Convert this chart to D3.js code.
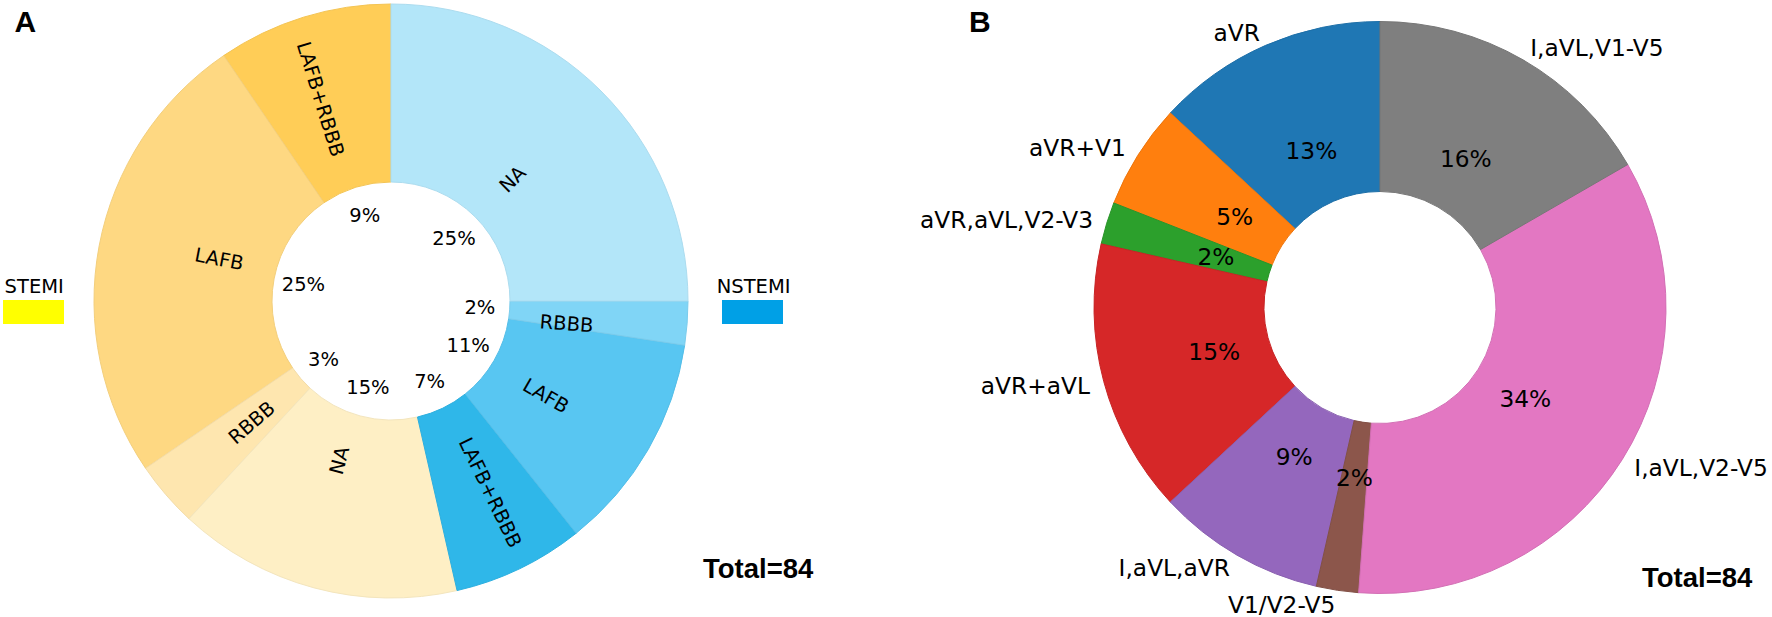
<!DOCTYPE html>
<html><head><meta charset="utf-8">
<script src="https://cdn.jsdelivr.net/npm/d3@7"></script>
<style>body{margin:0;background:#fff} svg{display:block}</style>
</head><body>
<svg id="chart" width="1772" height="617"></svg>
<script>
// ---------- data ----------
const blockCategories = ["LAFB+RBBB","LAFB","RBBB","NA","LAFB+RBBB","LAFB","RBBB","NA"];
const blockGroups     = ["STEMI","STEMI","STEMI","STEMI","NSTEMI","NSTEMI","NSTEMI","NSTEMI"];
const blockCounts     = [8, 21, 3, 13, 6, 10, 2, 21];
const groupNames      = ["STEMI","NSTEMI"];

const leadCategories = ["aVR","aVR+V1","aVR,aVL,V2-V3","aVR+aVL","I,aVL,aVR","V1/V2-V5","I,aVL,V2-V5","I,aVL,V1-V5"];
const leadCounts     = [11, 5, 2, 13, 8, 2, 29, 14];

const totalLabel = "Total=84";

// ---------- styles ----------
const blockColors = ["#FFCD57","#FED882","#FEE6AF","#FEEFC5","#2FB7E9","#58C6F2","#80D5F6","#B3E6F9"];
const groupColors = ["#FFFF00","#00A0E6"];
const leadColors  = ["#1f77b4","#ff7f0e","#2ca02c","#d62728","#9467bd","#8c564b","#e377c2","#7f7f7f"];
const fontSans = "'DejaVu Sans', sans-serif";
const fontBold = "'Liberation Sans', Arial, sans-serif";

const svg = d3.select("#chart");
svg.append("rect").attr("width",1772).attr("height",617).attr("fill","#fff");

const pieCCW = d3.pie().sort(null).startAngle(0).endAngle(-2*Math.PI);
const pct = (v,t) => Math.floor(100*v/t) + "%";
const mid = d => (d.startAngle + d.endAngle) / 2;

// ---------- Panel A ----------
{
  const cx = 391, cy = 301, R = 297, r = 119, fs = 19.5;
  const total = d3.sum(blockCounts);
  const arcs = pieCCW(blockCounts);
  const arc = d3.arc().innerRadius(r).outerRadius(R);
  const g = svg.append("g").attr("transform", `translate(${cx},${cy})`);
  g.selectAll("path.w").data(arcs).join("path").attr("class","w")
    .attr("d", arc)
    .attr("fill", (d,i) => blockColors[i])
    .attr("stroke", (d,i) => d3.color(blockColors[i]).darker(0.12))
    .attr("stroke-width", 1);

  // percentage labels in the hole
  const pr = 0.3 * R;
  g.selectAll("text.p").data(arcs).join("text").attr("class","p")
    .attr("x", d => pr*Math.sin(mid(d)))
    .attr("y", d => -pr*Math.cos(mid(d)))
    .attr("text-anchor","middle").attr("dominant-baseline","central")
    .attr("font-family", fontSans).attr("font-size", fs).attr("fill","#000")
    .text(d => pct(d.data, total));

  // rotated category labels (bbox-aligned like a pie with rotated labels)
  const lr = 0.5 * R;
  g.selectAll("text.c").data(arcs).join("text").attr("class","c")
    .attr("text-anchor","middle").attr("dominant-baseline","central")
    .attr("font-family", fontSans).attr("font-size", fs).attr("fill","#000")
    .text((d,i) => blockCategories[i])
    .each(function(d){
      const a = mid(d);
      const xt = lr*Math.sin(a), yt = -lr*Math.cos(a);
      const right = xt > 0, upper = yt < 0;
      const w = this.getComputedTextLength(), h = fs;
      let phi = Math.PI/2 - a;              // math angle (ccw from +x)
      let rot = right ? phi : phi + Math.PI;
      const c = Math.abs(Math.cos(rot)), s = Math.abs(Math.sin(rot));
      const W = w*c + h*s, H = w*s + h*c;
      const x = xt + (right ? W/2 : -W/2);
      const y = yt + (upper ? -H/2 : H/2);
      const deg = -rot*180/Math.PI;
      d3.select(this).attr("transform", `translate(${x},${y}) rotate(${deg})`);
    });

  // legends
  const legendPos = [{tx:4.6, rx:3}, {tx:716.7, rx:722}];
  groupNames.forEach((name,k) => {
    svg.append("text").attr("x", legendPos[k].tx).attr("y", 292.7)
      .attr("font-family", fontSans).attr("font-size", fs).attr("fill","#000").text(name);
    svg.append("rect").attr("x", legendPos[k].rx).attr("y", 300).attr("width", 61).attr("height", 24)
      .attr("fill", groupColors[k]);
  });

  svg.append("text").attr("x", 703).attr("y", 577.5)
    .attr("font-family", fontBold).attr("font-weight","bold").attr("font-size", 27.5).attr("fill","#000")
    .text(totalLabel);
  svg.append("text").attr("x", 14.5).attr("y", 31.7)
    .attr("font-family", fontBold).attr("font-weight","bold").attr("font-size", 30).attr("fill","#000")
    .text("A");
}

// ---------- Panel B ----------
{
  const cx = 1380, cy = 307.5, R = 286, r = 116, fs = 23.3;
  const total = d3.sum(leadCounts);
  const arcs = pieCCW(leadCounts);
  const arc = d3.arc().innerRadius(r).outerRadius(R);
  const g = svg.append("g").attr("transform", `translate(${cx},${cy})`);
  g.selectAll("path.w").data(arcs).join("path").attr("class","w")
    .attr("d", arc)
    .attr("fill", (d,i) => leadColors[i])
    .attr("stroke", (d,i) => d3.color(leadColors[i]).darker(0.2))
    .attr("stroke-width", 1);

  const pr = 0.6 * R;
  g.selectAll("text.p").data(arcs).join("text").attr("class","p")
    .attr("x", d => pr*Math.sin(mid(d)))
    .attr("y", d => -pr*Math.cos(mid(d)))
    .attr("text-anchor","middle").attr("dominant-baseline","central")
    .attr("font-family", fontSans).attr("font-size", fs).attr("fill","#000")
    .text(d => pct(d.data, total));

  const lr = 1.05 * R;
  g.selectAll("text.c").data(arcs).join("text").attr("class","c")
    .attr("x", d => lr*Math.sin(mid(d)))
    .attr("y", d => -lr*Math.cos(mid(d)))
    .attr("text-anchor", d => Math.sin(mid(d)) > 0 ? "start" : "end")
    .attr("dominant-baseline","central")
    .attr("font-family", fontSans).attr("font-size", fs).attr("fill","#000")
    .text((d,i) => leadCategories[i]);

  svg.append("text").attr("x", 1642).attr("y", 587)
    .attr("font-family", fontBold).attr("font-weight","bold").attr("font-size", 27.5).attr("fill","#000")
    .text(totalLabel);
  svg.append("text").attr("x", 969).attr("y", 31.7)
    .attr("font-family", fontBold).attr("font-weight","bold").attr("font-size", 30).attr("fill","#000")
    .text("B");
}
</script>
</body></html>
